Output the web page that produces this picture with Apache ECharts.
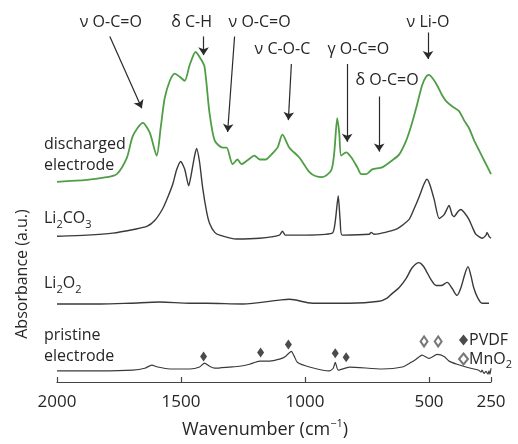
<!DOCTYPE html>
<html>
<head>
<meta charset="utf-8">
<script src="https://cdn.jsdelivr.net/npm/echarts@6/dist/echarts.min.js"></script>
<style>
  html, body { margin: 0; padding: 0; background: #fff; }
  #chart { width: 518px; height: 444px; }
</style>
</head>
<body>
<div id="chart"></div>
<script>
// wavenumber (cm-1) and stacked absorbance (a.u., traces offset)
var dischargedWn = [2000,1880,1800,1759,1718,1694,1654,1626,1598,1582,1566,1545,1525,1505,1485,1465,1441,1420,1405,1385,1364,1332,1316,1292,1272,1256,1232,1204,1183,1159,1135,1111,1091,1063,1023,982,958,930,894,882,870,862,854,834,813,789,773,753,729,689,648,620,592,572,552,528,512,500,484,467,447,431,407,379,359,339,319,298,274,250];
var dischargedAbs = [5.08,5.13,5.2,5.28,5.7,6.25,6.58,6.33,5.75,6.45,7.2,7.65,7.83,7.75,7.65,8.05,8.38,8.2,8.0,6.83,6.13,5.95,5.95,5.53,5.65,5.53,5.63,5.75,5.65,5.65,5.78,5.95,6.28,5.95,5.7,5.33,5.23,5.2,5.38,5.83,6.7,6.33,5.75,5.83,5.7,5.45,5.28,5.28,5.4,5.45,5.63,5.78,6.13,6.5,6.95,7.53,7.75,7.8,7.7,7.53,7.28,7.13,7.0,6.88,6.65,6.45,6.15,5.88,5.58,5.28];

var carbonateWn = [2000,1879,1775,1686,1638,1606,1574,1553,1533,1517,1501,1485,1469,1457,1445,1437,1425,1413,1397,1385,1364,1344,1276,1183,1103,1091,1079,1023,890,878,866,858,850,741,733,721,632,580,560,540,520,508,496,479,459,439,419,407,399,383,371,355,339,323,311,286,270,266,258,250];
var carbonateAbs = [3.7,3.73,3.78,3.88,3.95,4.1,4.4,4.7,5.03,5.4,5.6,5.4,4.98,5.33,5.75,5.93,5.58,4.95,4.33,4.03,3.8,3.73,3.63,3.65,3.73,3.83,3.73,3.73,3.78,4.08,4.73,4.08,3.73,3.75,3.8,3.75,3.88,4.13,4.4,4.7,5.03,5.15,5.0,4.63,4.15,4.25,4.48,4.25,4.2,4.33,4.38,4.28,4.13,3.9,3.75,3.65,3.73,3.8,3.7,3.65];

var peroxideWn = [2000,1827,1706,1586,1465,1397,1252,1103,1063,970,821,701,669,648,620,592,568,540,524,512,492,471,451,427,407,387,371,355,343,331,319,303,286,258];
var peroxideAbs = [1.98,1.98,2.0,2.03,2.0,2.0,1.98,2.08,2.1,2.0,2.0,2.05,2.13,2.25,2.4,2.63,2.9,3.03,2.95,2.83,2.6,2.45,2.45,2.53,2.38,2.2,2.4,2.75,2.93,2.7,2.38,2.13,2.0,2.0];

var pristineWn = [2000,1827,1694,1646,1618,1594,1545,1465,1425,1405,1385,1364,1304,1264,1224,1183,1143,1103,1079,1055,1043,1031,982,902,886,878,866,821,689,608,572,552,528,500,467,439,419,387,351,319,300,290,286,278,270,262,258,254,250];
var pristineAbs = [0.28,0.28,0.3,0.35,0.43,0.38,0.33,0.33,0.38,0.48,0.4,0.35,0.38,0.4,0.45,0.53,0.53,0.58,0.65,0.78,0.65,0.5,0.38,0.28,0.35,0.5,0.3,0.38,0.33,0.38,0.5,0.58,0.68,0.6,0.7,0.65,0.53,0.45,0.38,0.33,0.3,0.25,0.3,0.22,0.27,0.2,0.28,0.2,0.35];

var pvdfWn = [1409,1179,1067,878,834];
var pvdfAbs = [0.65,0.75,0.95,0.73,0.63];
var mno2Wn = [520,463];
var mno2Abs = [1.03,1.03];

var xTicks = [2000,1500,1000,500,250];

// peak assignments: label, label position, arrow start and tip
var annoText = ['ν O-C=O','δ C-H','ν O-C=O','ν C-O-C','γ O-C=O','δ O-C=O','ν Li-O'];
var annoTextWn = [1783,1457,1183,1091,785,669,504];
var annoTextAbs = [9.125,9.125,9.125,8.45,8.45,7.65,9.125];
var arrowFromWn = [1787,1409,1284,1055,830,701,504];
var arrowFromAbs = [8.775,8.775,8.775,8.075,8.075,7.25,8.875];
var arrowToWn = [1658,1409,1312,1067,830,701,504];
var arrowToAbs = [6.95,8.3,6.35,6.65,6.1,5.85,8.2];

// trace names, placed left of the axis start
var traceLabels = ['discharged\nelectrode','{n|Li}{s|2}{n|CO}{s|3}','{n|Li}{s|2}{n|O}{s|2}','pristine\nelectrode'];
var traceLabelAbs = [5.775,4.15,2.5,0.925];

var FONT = '"Open Sans", "Noto Sans", sans-serif';
var INK = '#262626';

function pairs(xs, ys) {
  return xs.map(function (x, i) { return [x, ys[i]]; });
}

var chart = echarts.init(document.getElementById('chart'));

var arrowLines = arrowFromWn.map(function (w, i) {
  return [{ coord: [w, arrowFromAbs[i]] }, { coord: [arrowToWn[i], arrowToAbs[i]] }];
});

var option = {
  animation: false,
  grid: { left: 57, right: 27, top: 0, bottom: 56 },
  xAxis: {
    type: 'value',
    min: 250,
    max: 2000,
    inverse: true,
    name: 'Wavenumber {n|(cm}{p|−1}{n|)}',
    nameLocation: 'middle',
    nameGap: 36,
    nameTextStyle: {
      fontFamily: FONT, fontSize: 18, color: INK,
      padding: [0, 18, 0, 0],
      rich: {
        n: { fontFamily: FONT, fontSize: 18, color: INK, lineHeight: 24, verticalAlign: 'middle' },
        p: { fontFamily: FONT, fontSize: 11, color: INK, lineHeight: 24, verticalAlign: 'top' }
      }
    },
    axisLine: { lineStyle: { color: '#444', width: 1.2 } },
    axisTick: { inside: true, length: 5, customValues: xTicks, lineStyle: { color: '#444', width: 1.2 } },
    axisLabel: {
      customValues: xTicks, margin: 12, fontFamily: FONT, fontSize: 17, color: INK,
      formatter: function (v) { return String(v); }
    },
    splitLine: { show: false }
  },
  yAxis: { type: 'value', min: 0, max: 9.7, show: false },
  legend: {
    orient: 'vertical',
    left: 453,
    top: 327,
    itemWidth: 9,
    itemHeight: 11,
    itemGap: 3,
    data: [{ name: 'PVDF', icon: 'diamond' }, { name: 'MnO2', icon: 'emptyDiamond' }],
    formatter: function (name) {
      return name === 'MnO2' ? '{n|MnO}{s|2}' : '{n|PVDF}';
    },
    textStyle: {
      padding: [0, 0, 0, -4],
      rich: {
        n: { fontFamily: FONT, fontSize: 16, color: INK, lineHeight: 22, verticalAlign: 'middle' },
        s: { fontFamily: FONT, fontSize: 11, color: INK, lineHeight: 22, verticalAlign: 'bottom' }
      }
    }
  },
  series: [
    {
      name: 'discharged electrode', type: 'line', data: pairs(dischargedWn, dischargedAbs),
      showSymbol: false, smooth: 0.25, lineStyle: { color: '#4f9e46', width: 1.8 },
      markLine: {
        silent: true, symbol: ['none', 'arrow'], symbolSize: 8,
        label: { show: false },
        lineStyle: { color: '#2a2a2a', width: 1.2, type: 'solid' },
        data: arrowLines
      }
    },
    { name: 'Li2CO3', type: 'line', data: pairs(carbonateWn, carbonateAbs), showSymbol: false, smooth: 0.2, lineStyle: { color: '#3a3a3a', width: 1.4 } },
    { name: 'Li2O2', type: 'line', data: pairs(peroxideWn, peroxideAbs), showSymbol: false, smooth: 0.3, lineStyle: { color: '#3a3a3a', width: 1.4 } },
    { name: 'pristine electrode', type: 'line', data: pairs(pristineWn, pristineAbs), showSymbol: false, smooth: 0.2, lineStyle: { color: '#3a3a3a', width: 1.2 } },
    { name: 'PVDF', type: 'scatter', data: pairs(pvdfWn, pvdfAbs), symbol: 'diamond', symbolSize: [7, 10], itemStyle: { color: '#1e1e1e' }, z: 5 },
    { name: 'MnO2', type: 'scatter', data: pairs(mno2Wn, mno2Abs), symbol: 'emptyDiamond', symbolSize: [7, 10], itemStyle: { color: '#555', borderWidth: 1 }, z: 5 }
  ]
};

chart.setOption(option);

function toPx(wn, a) {
  return chart.convertToPixel({ gridIndex: 0 }, [wn, a]);
}

var subRich = {
  n: { fontFamily: FONT, fontSize: 16, fill: INK, lineHeight: 24, verticalAlign: 'middle' },
  s: { fontFamily: FONT, fontSize: 11, fill: INK, lineHeight: 24, verticalAlign: 'bottom' }
};

var graphics = [];
annoText.forEach(function (t, i) {
  var p = toPx(annoTextWn[i], annoTextAbs[i]);
  graphics.push({
    type: 'text', x: p[0], y: p[1], silent: true,
    style: { text: t, fontFamily: FONT, fontSize: 16, fill: INK, align: 'center', verticalAlign: 'middle' }
  });
});

var labelX = toPx(2000, 0)[0] - 13;
traceLabels.forEach(function (t, i) {
  var p = toPx(2000, traceLabelAbs[i]);
  graphics.push({
    type: 'text', x: labelX, y: p[1], silent: true,
    style: t.indexOf('{') >= 0
      ? { text: t, rich: subRich, align: 'left', verticalAlign: 'middle' }
      : { text: t, fontFamily: FONT, fontSize: 16, lineHeight: 21, fill: INK, align: 'left', verticalAlign: 'middle' }
  });
});

graphics.push({
  type: 'text', x: 22, y: 274, rotation: Math.PI / 2, silent: true,
  style: { text: 'Absorbance (a.u.)', fontFamily: FONT, fontSize: 16, fill: INK, align: 'center', verticalAlign: 'middle' }
});

chart.setOption({ graphic: graphics });
</script>
</body>
</html>
